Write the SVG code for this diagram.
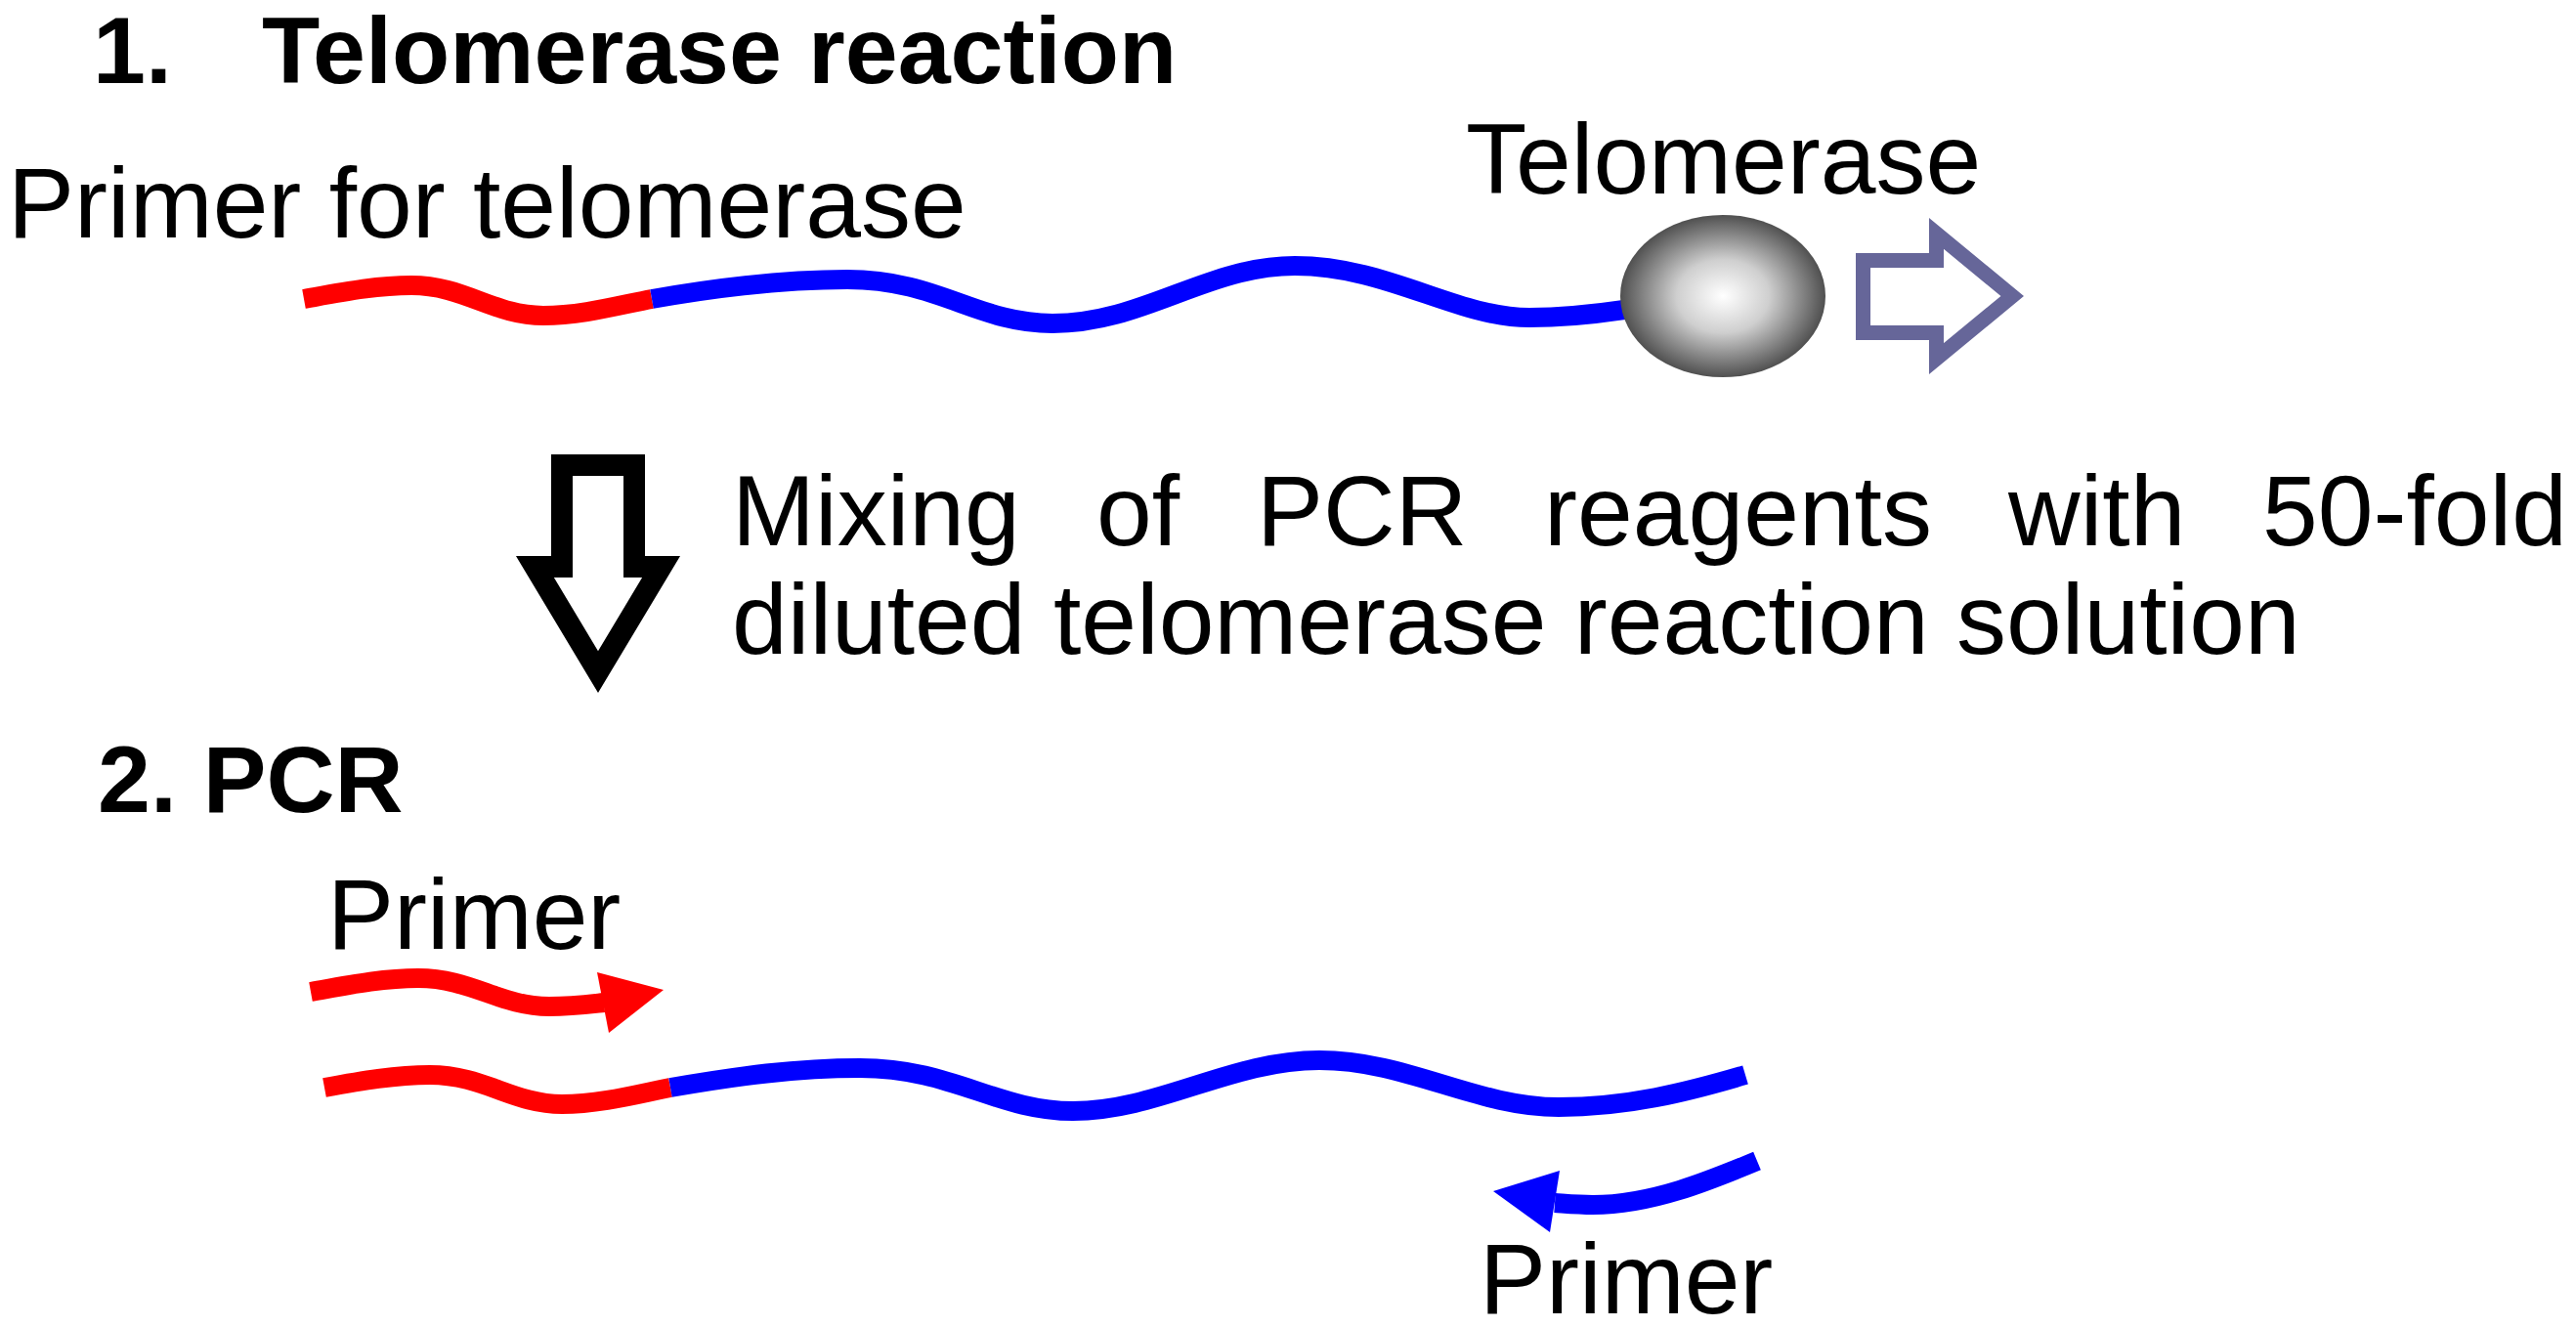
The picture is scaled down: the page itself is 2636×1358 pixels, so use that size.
<svg xmlns="http://www.w3.org/2000/svg" width="2636" height="1358" viewBox="0 0 2636 1358">
  <style>
    .bold { font-family: "Liberation Sans", Arial, sans-serif; font-weight: bold; font-size: 97px; fill: #000; }
    .reg { font-family: "Liberation Sans", Arial, sans-serif; font-size: 102px; fill: #000; }
    .red { fill: none; stroke: #FF0000; stroke-width: 20; stroke-linecap: butt; }
    .blue { fill: none; stroke: #0000FF; stroke-width: 20; stroke-linecap: butt; }
    .hollow { fill: #FFFFFF; stroke-linejoin: miter; stroke-miterlimit: 10; }
  </style>
  <defs>
    <radialGradient id="ballGrad" cx="50%" cy="50%" r="50%">
      <stop offset="0" stop-color="#FFFFFF"/>
      <stop offset="0.45" stop-color="#CFCFCF"/>
      <stop offset="1" stop-color="#505050"/>
    </radialGradient>
  </defs>
  <rect width="2636" height="1358" fill="#FFFFFF"/>

  <g id="title1">
    <text class="bold" y="85"><tspan x="95">1.</tspan><tspan x="268">Telomerase reaction</tspan></text>
  </g>

  <g id="label-primer-telomerase">
    <text class="reg" x="8" y="243">Primer for telomerase</text>
  </g>

  <g id="label-telomerase">
    <text class="reg" x="1500" y="198">Telomerase</text>
  </g>

  <g id="strand1">
    <path class="red" d="M311,306 C350,299 385,292 421,292 C475,292 505,323 556,323 C595,323 635,312 667,306"/>
    <path class="blue" d="M667,306 C735,294 800,286 867,286 C960,286 1000,331 1077,331 C1170,331 1235,272 1325,272 C1420,272 1490,325 1565,325 C1605,325 1635,321 1662,317"/>
  </g>

  <g id="telomerase">
    <ellipse cx="1763" cy="303" rx="105" ry="83" fill="url(#ballGrad)"/>
  </g>

  <g id="mixing-text">
    <text class="reg" y="558"><tspan x="749">Mixing</tspan><tspan x="1122">of</tspan><tspan x="1286">PCR</tspan><tspan x="1580">reagents</tspan><tspan x="2055">with</tspan><tspan x="2315">50-fold</tspan></text>
    <text class="reg" x="749" y="669">diluted telomerase reaction solution</text>
  </g>

  <g id="title2">
    <text class="bold" x="100" y="831">2. PCR</text>
  </g>

  <g id="label-primer-forward">
    <text class="reg" x="335" y="971">Primer</text>
  </g>

  <g id="strand2">
    <path class="red" d="M332,1113 C370,1106 405,1100 440,1100 C495,1100 525,1130 575,1130 C615,1130 655,1119 686,1113"/>
    <path class="blue" d="M686,1113 C755,1101 815,1093 880,1093 C975,1093 1020,1137 1098,1137 C1185,1137 1260,1085 1350,1085 C1440,1085 1510,1133 1595,1133 C1665,1133 1725,1118 1786,1100"/>
  </g>

  <g id="label-primer-reverse">
    <text class="reg" x="1514" y="1344">Primer</text>
  </g>

  <g id="connectors">
    <polygon id="arrow-extension" class="hollow" stroke="#666699" stroke-width="15" points="1906.5,266.5 1981.5,266.5 1981.5,238.9 2059.2,303 1981.5,367.1 1981.5,340.5 1906.5,340.5"/>
    <polygon id="arrow-down" class="hollow" stroke="#000000" stroke-width="22" points="575,476 649,476 649,580 676.6,580 612,687.6 547.4,580 575,580"/>
    <g id="primer-forward-arrow">
      <path class="red" d="M318,1015 C357,1008 392,1001 428,1001 C482,1001 512,1030 562,1030 C585,1030 600,1028 618,1026"/>
      <polygon fill="#FF0000" points="611,995 679,1013 623,1057"/>
    </g>
    <g id="primer-reverse-arrow">
      <path class="blue" d="M1798,1188 C1750,1208 1690,1233 1630,1233 C1615,1233 1605,1232 1591,1231"/>
      <polygon fill="#0000FF" points="1596,1198 1528,1219 1586,1261"/>
    </g>
  </g>
</svg>
